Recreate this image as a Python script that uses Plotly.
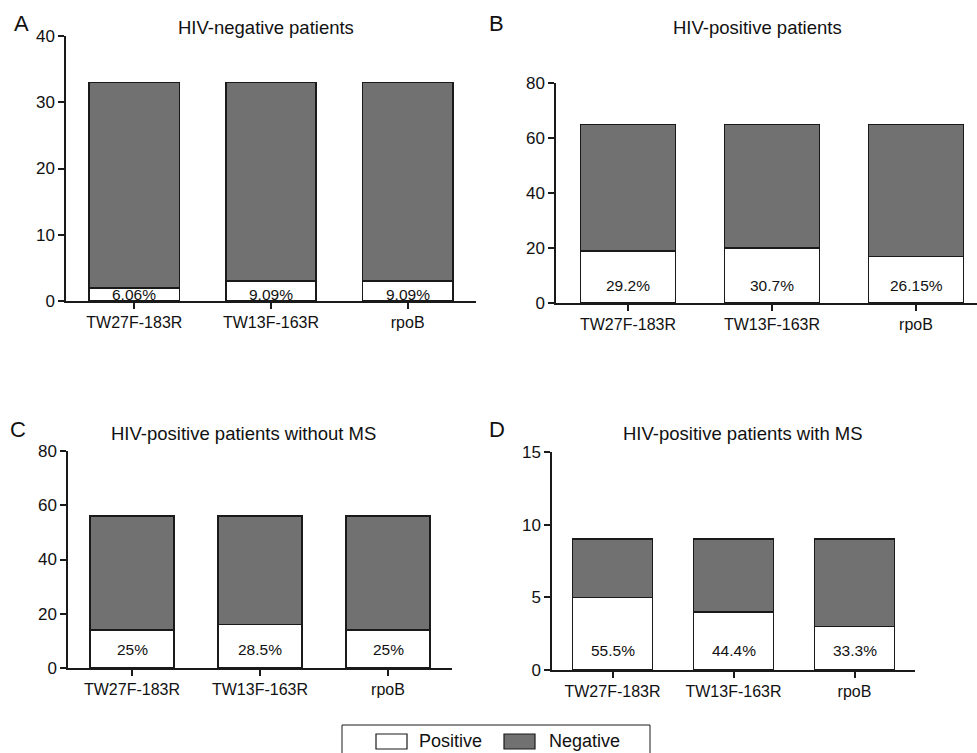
import plotly.graph_objects as go

categories = ["TW27F-183R", "TW13F-163R", "rpoB"]

panel_titles = ["HIV-negative patients", "HIV-positive patients",
                "HIV-positive patients without MS", "HIV-positive patients with MS"]
panel_letters = ["A", "B", "C", "D"]
series_names = ["Positive", "Negative"]

positive_A = [2, 3, 3]
negative_A = [31, 30, 30]
labels_A = ["6.06%", "9.09%", "9.09%"]

positive_B = [19, 20, 17]
negative_B = [46, 45, 48]
labels_B = ["29.2%", "30.7%", "26.15%"]

positive_C = [14, 16, 14]
negative_C = [42, 40, 42]
labels_C = ["25%", "28.5%", "25%"]

positive_D = [5, 4, 3]
negative_D = [4, 5, 6]
labels_D = ["55.5%", "44.4%", "33.3%"]

y_ticks_A = [0, 10, 20, 30, 40]
y_ticks_B = [0, 20, 40, 60, 80]
y_ticks_C = [0, 20, 40, 60, 80]
y_ticks_D = [0, 5, 10, 15]

W, H = 977, 753
FONT = "Liberation Sans, Arial, Helvetica, sans-serif"
GRAY = "#717171"
EDGE = "#1a1a1a"
FILLS = ["white", GRAY]

panels = [
    dict(pos=positive_A, neg=negative_A, lab=labels_A, ticks=y_ticks_A,
         xl=66, xr=476, y0=301, ytop=36, ymax=40, xmax=2.5, shift=7),
    dict(pos=positive_B, neg=negative_B, lab=labels_B, ticks=y_ticks_B,
         xl=556, xr=977, y0=303, ytop=83, ymax=80, xmax=None, shift=18),
    dict(pos=positive_C, neg=negative_C, lab=labels_C, ticks=y_ticks_C,
         xl=68, xr=452, y0=668, ytop=451, ymax=80, xmax=2.5, shift=19),
    dict(pos=positive_D, neg=negative_D, lab=labels_D, ticks=y_ticks_D,
         xl=552, xr=915, y0=670, ytop=452, ymax=15, xmax=2.5, shift=20),
]
title_pos = [(266, 28), (757, 28), (243, 433), (743, 433)]
letter_pos = [(21, 24), (497, 24), (18, 429), (497, 429)]

fig = go.Figure()
annotations = []
shapes = []
layout = {}

for i, p in enumerate(panels):
    n = "" if i == 0 else str(i + 1)
    xa, ya = "x" + n, "y" + n
    for name, vals, fill in zip(series_names, [p["pos"], p["neg"]], FILLS):
        fig.add_trace(go.Bar(
            x=categories, y=vals, xaxis=xa, yaxis=ya, name=name,
            marker=dict(color=fill, line=dict(color=EDGE, width=1.5)),
            width=0.66, showlegend=False, hoverinfo="y"))

    if p["xmax"] is None:
        xmax = -0.5 + (p["xr"] - p["xl"]) / 144.0
    else:
        xmax = p["xmax"]

    layout["xaxis" + n] = dict(
        domain=[p["xl"] / W, p["xr"] / W], anchor=ya, range=[-0.5, xmax],
        showline=True, linecolor=EDGE, linewidth=1.5, ticks="outside",
        ticklen=6, tickwidth=1.5, tickcolor=EDGE, showgrid=False,
        tickfont=dict(family=FONT, size=16, color="#111"), fixedrange=True,
        automargin=False)
    layout["yaxis" + n] = dict(
        domain=[1 - p["y0"] / H, 1 - p["ytop"] / H], anchor=xa,
        range=[0, p["ymax"]], tickvals=p["ticks"],
        showline=True, linecolor=EDGE, linewidth=1.5, ticks="outside",
        ticklen=6, tickwidth=1.5, tickcolor=EDGE, showgrid=False,
        zeroline=False, tickfont=dict(family=FONT, size=17, color="#111"),
        fixedrange=True, automargin=False)

    for c, t in zip(categories, p["lab"]):
        annotations.append(dict(
            x=c, y=0, xref=xa, yref=ya, text=t, showarrow=False,
            yanchor="middle", yshift=p["shift"],
            font=dict(family=FONT, size=15.5, color="#111")))

    tx, ty = title_pos[i]
    annotations.append(dict(
        x=tx / W, y=1 - ty / H, xref="paper", yref="paper",
        text=panel_titles[i], showarrow=False, xanchor="center",
        yanchor="middle", font=dict(family=FONT, size=18.5, color="#111")))
    lx, ly = letter_pos[i]
    annotations.append(dict(
        x=lx / W, y=1 - ly / H, xref="paper", yref="paper",
        text=panel_letters[i], showarrow=False, xanchor="center",
        yanchor="middle", font=dict(family=FONT, size=22, color="#111")))

# hand-drawn legend (box, swatches, labels) in paper pixels
def px(x):
    return x / W

def py(y):
    return 1 - y / H

shapes.append(dict(type="rect", xref="paper", yref="paper",
                   x0=px(342), x1=px(650), y0=py(725), y1=py(765),
                   line=dict(color=EDGE, width=1), fillcolor="rgba(0,0,0,0)"))
swatches = [(376, 407, 417), (504, 535, 547)]
for (sx0, sx1, tx), name, fill in zip(swatches, series_names, FILLS):
    shapes.append(dict(type="rect", xref="paper", yref="paper",
                       x0=px(sx0), x1=px(sx1), y0=py(749), y1=py(734),
                       line=dict(color=EDGE, width=1.2), fillcolor=fill))
    annotations.append(dict(
        x=px(tx), y=py(741), xref="paper", yref="paper", text=name,
        showarrow=False, xanchor="left", yanchor="middle",
        font=dict(family=FONT, size=18, color="#111")))

fig.update_layout(
    width=W, height=H, margin=dict(l=0, r=0, t=0, b=0),
    paper_bgcolor="white", plot_bgcolor="white", barmode="stack",
    showlegend=False, annotations=annotations, shapes=shapes,
    **layout)

fig.write_html(
    "out.html",
    config={"displayModeBar": False},
    post_script="document.body.style.margin='0';"
                "document.body.style.overflow='hidden';")
